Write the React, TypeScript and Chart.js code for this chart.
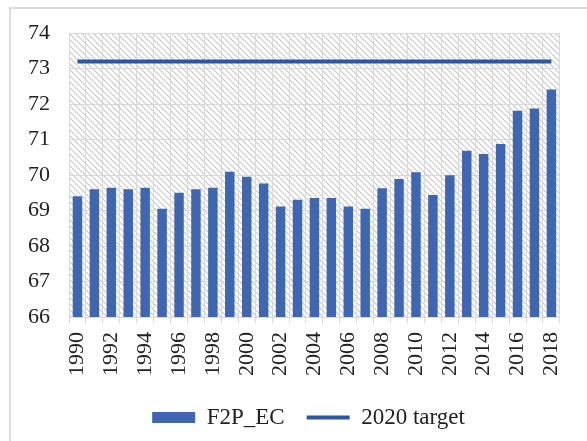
import React, { useEffect, useRef } from "react";
import { Chart, registerables } from "chart.js";

Chart.register(...registerables);

const years = [
  "1990", "1991", "1992", "1993", "1994", "1995", "1996", "1997", "1998", "1999",
  "2000", "2001", "2002", "2003", "2004", "2005", "2006", "2007", "2008", "2009",
  "2010", "2011", "2012", "2013", "2014", "2015", "2016", "2017", "2018",
];
const f2pEC = [
  69.4, 69.6, 69.64, 69.6, 69.64, 69.05, 69.5, 69.6, 69.64, 70.09,
  69.95, 69.76, 69.11, 69.3, 69.35, 69.35, 69.11, 69.05, 69.63, 69.89,
  70.08, 69.44, 69.99, 70.68, 70.59, 70.87, 71.81, 71.87, 72.41,
];
const target2020 = years.map(() => 73.2);
const yMin = 66;
const yMax = 74;

const FONT = '"Liberation Serif", "Times New Roman", serif';

function makeHatch(): CanvasPattern | string {
  const t = document.createElement("canvas");
  t.width = 6;
  t.height = 6;
  const c = t.getContext("2d");
  if (!c) return "#eee";
  c.fillStyle = "#ffffff";
  c.fillRect(0, 0, 6, 6);
  c.strokeStyle = "#c8c8c8";
  c.lineWidth = 1.1;
  c.beginPath();
  c.moveTo(-1, -1);
  c.lineTo(7, 7);
  c.moveTo(-1, 5);
  c.lineTo(1, 7);
  c.moveTo(5, -1);
  c.lineTo(7, 1);
  c.stroke();
  const p = c.createPattern(t, "repeat");
  return p || "#eee";
}

export default function App() {
  const ref = useRef<HTMLCanvasElement | null>(null);

  useEffect(() => {
    if (!ref.current) return;
    const hatch = makeHatch();
    const hatchPlugin = {
      id: "hatchBg",
      beforeDraw(chart: any) {
        const { ctx, chartArea } = chart;
        ctx.save();
        ctx.fillStyle = hatch;
        ctx.fillRect(chartArea.left, chartArea.top, chartArea.right - chartArea.left, chartArea.bottom - chartArea.top);
        ctx.restore();
      },
    };
    const legendShift = {
      id: "legendShift",
      afterLayout(chart: any) {
        if (chart.legend) {
          chart.legend.left += 21;
          chart.legend.right += 21;
        }
      },
    };
    const chart = new Chart(ref.current, {
      type: "bar",
      data: {
        labels: years,
        datasets: [
          {
            type: "line",
            label: "2020 target",
            data: target2020,
            borderColor: "#2f56a2",
            backgroundColor: "#2f56a2",
            borderWidth: 4,
            pointRadius: 0,
            pointStyle: "line",
            order: 0,
          } as any,
          {
            type: "bar",
            label: "F2P_EC",
            data: f2pEC,
            backgroundColor: "#3f67b1",
            borderWidth: 0,
            barPercentage: 0.56,
            categoryPercentage: 1,
            pointStyle: "rect",
            order: 1,
          } as any,
        ],
      },
      options: {
        animation: false,
        responsive: false,
        maintainAspectRatio: false,
        layout: { padding: { left: 0, right: 12, top: 33, bottom: 2 } },
        plugins: {
          tooltip: { enabled: false },
          legend: {
            position: "bottom",
            reverse: true,
            labels: {
              usePointStyle: true,
              pointStyleWidth: 43,
              boxHeight: 11,
              padding: 22,
              color: "#222",
              font: { family: FONT, size: 23 },
            },
          },
        },
        scales: {
          x: {
            grid: { color: "#d9d9d9", lineWidth: 1, tickLength: 6, offset: true, drawTicks: true },
            border: { color: "#d9d9d9" },
            ticks: {
              autoSkip: false,
              maxRotation: 90,
              minRotation: 90,
              padding: 9,
              color: "#222",
              font: { family: FONT, size: 22 },
              callback: (_v: any, i: number) => (i % 2 === 0 ? years[i] : ""),
            },
            afterFit: (s: any) => {
              s.height = 67;
            },
          },
          y: {
            min: yMin,
            max: yMax,
            grid: { color: "#d9d9d9", lineWidth: 1, drawTicks: false },
            border: { color: "#d9d9d9" },
            ticks: {
              stepSize: 1,
              padding: 19,
              color: "#222",
              font: { family: FONT, size: 22 },
            },
            afterFit: (s: any) => {
              s.width = 69;
            },
          },
        },
      },
      plugins: [hatchPlugin, legendShift],
    });
    return () => chart.destroy();
  }, []);

  return (
    <div style={{ position: "fixed", left: 0, top: 0, width: 587, height: 441, background: "#fff" }}>
      <div
        style={{
          position: "absolute",
          left: 9,
          top: 7,
          width: 600,
          height: 450,
          borderLeft: "2px solid #dcdcdc",
          borderTop: "2px solid #dcdcdc",
        }}
      />
      <canvas ref={ref} width={587} height={441} style={{ position: "absolute", left: 0, top: 0 }} />
    </div>
  );
}
